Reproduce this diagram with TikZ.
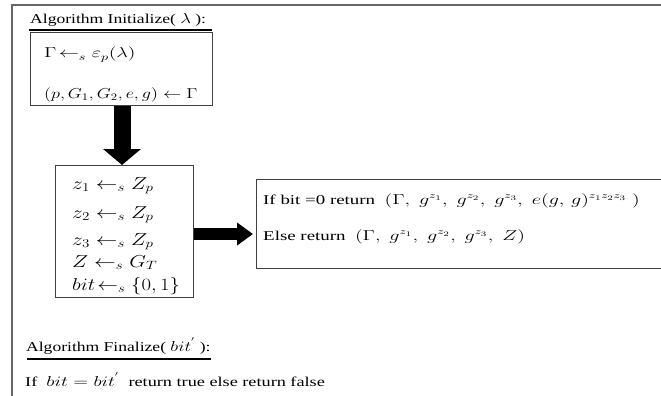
\documentclass[tikz,border=0pt]{standalone}
\usepackage[no-math]{fontspec}
\setmainfont{Liberation Serif}
\usetikzlibrary{arrows.meta}
% horizontally widened text
\newcommand{\widetxt}[2]{\scalebox{#1}[1]{#2}}
\newcommand{\bigmath}[1]{{\fontsize{15}{17}\selectfont #1}}
\tikzset{
  frameline/.style={draw=black!60, line width=1.2pt},
  boxline/.style={draw=black!75, line width=1pt},
  headline/.style={draw=black, line width=2pt},
  txt/.style={anchor=base west, inner sep=0pt, font=\fontsize{13.5}{16}\selectfont},
  midtxt/.style={anchor=base west, inner sep=0pt, font=\fontsize{14}{16}\selectfont},
  bigtxt/.style={anchor=base west, inner sep=0pt, font=\fontsize{17}{19}\selectfont},
  blockarrow/.style={draw=black, line width=#1}
}
\begin{document}
\begin{tikzpicture}[x=1pt,y=-1pt]
\useasboundingbox (0,0) rectangle (661,396);

% outer frame (top and left sides)
\draw[frameline] (663,5) -- (12,5) -- (12,398);

% Initialize
\node[txt] (initT) at (30,24) {\widetxt{1.3}{Algorithm Initialize( $\lambda$ ):}};
\draw[headline] (29,30) -- (212,30);
\node[boxline, rectangle, minimum width=182pt, minimum height=73pt, anchor=north west, inner sep=0pt] (box1) at (30,32) {};
\node[midtxt] (i1) at (44,58) {\widetxt{1.4}{$\Gamma\!\leftarrow_{s}\varepsilon_{p}(\lambda)$}};
\node[midtxt] (i2) at (44,98) {\widetxt{1.26}{$(p,G_1,G_2,e,g)\leftarrow\Gamma$}};

% sampling box
\node[boxline, rectangle, minimum width=138pt, minimum height=132pt, anchor=north west, inner sep=0pt] (box2) at (55,165) {};
\node[bigtxt] (s1) at (72,189) {\widetxt{1.25}{$z_1\leftarrow_{s}Z_p$}};
\node[bigtxt] (s2) at (72,218) {\widetxt{1.25}{$z_2\leftarrow_{s}Z_p$}};
\node[bigtxt] (s3) at (72,245) {\widetxt{1.25}{$z_3\leftarrow_{s}Z_p$}};
\node[bigtxt] (s4) at (72,267) {\widetxt{1.25}{$Z\leftarrow_{s}G_T$}};
\node[bigtxt] (s5) at (72,290) {\widetxt{1.2}{$bit\!\leftarrow_{s}\{0,1\}$}};

% challenge box
\node[boxline, rectangle, minimum width=410pt, minimum height=89pt, anchor=north west, inner sep=0pt] (box3) at (256,179) {};
\node[txt] (c1) at (263,204) {\widetxt{1.4}{If bit =0 return \ $\Bigl(\Gamma,\; g^{z_1},\; g^{z_2},\; g^{z_3},\; e(g,\, g)^{z_1z_2z_3}\;\Bigr)$}};
\node[txt] (c2) at (263,240) {\widetxt{1.4}{Else return \ $\Bigl(\Gamma,\; g^{z_1},\; g^{z_2},\; g^{z_3},\; Z\Bigr)$}};

% block arrows
\draw[blockarrow=17pt, -{Triangle[width=37pt,length=16pt]}] (box1.south -| 122,0) -- (122,165);
\draw[blockarrow=12pt, -{Triangle[width=22pt,length=16pt]}] (box2.east |- 0,234) -- (253,234);

% Finalize
\node[txt] (finT) at (26,351) {\widetxt{1.3}{Algorithm Finalize( \bigmath{$bit^{'}$} ):}};
\draw[headline] (27,359) -- (211,359);
\node[txt] (f1) at (25,386) {\widetxt{1.35}{If \ \bigmath{$bit=bit^{'}$} \ return true else return false}};
\end{tikzpicture}
\end{document}
